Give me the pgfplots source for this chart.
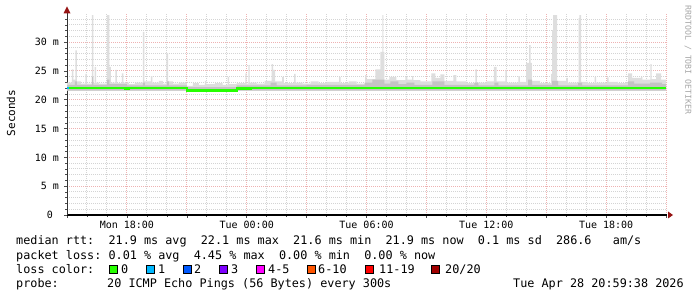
\documentclass[border=0pt]{standalone}
\usepackage{fontspec}
\usepackage{pgfplots}
\pgfplotsset{compat=1.18}
\usepgfplotslibrary{fillbetween}
\newfontfamily\mono{DejaVu Sans Mono}
\definecolor{lcA}{HTML}{26FF00}
\definecolor{lcB}{HTML}{00B8FF}
\definecolor{lcC}{HTML}{0059FF}
\definecolor{lcD}{HTML}{7E00FF}
\definecolor{lcE}{HTML}{FF00FF}
\definecolor{lcF}{HTML}{FF5500}
\definecolor{lcG}{HTML}{FF0000}
\definecolor{lcH}{HTML}{A10000}
\definecolor{smokeL}{RGB}{222,222,222}
\definecolor{smokeD}{RGB}{196,196,196}
\definecolor{mgrid}{RGB}{238,178,178}
\definecolor{grd}{RGB}{212,212,212}
\definecolor{arrowc}{RGB}{150,20,20}

\pgfplotstableread{
x y
0.00 23.0
0.25 25.3
0.32 23.5
0.42 28.6
0.50 23.2
0.70 22.8
0.92 24.5
1.00 22.8
1.25 34.7
1.32 22.9
1.38 25.7
1.46 23.0
1.60 22.8
2.00 34.7
2.12 25.7
2.20 23.0
2.42 25.2
2.50 22.9
2.75 24.6
2.82 23.0
3.10 22.7
3.40 23.0
3.80 31.8
3.88 23.2
4.20 24.1
4.28 23.0
4.60 23.3
4.80 22.8
4.98 28.1
5.06 23.2
5.30 22.8
5.60 23.0
6.00 22.4
6.30 22.9
6.60 22.6
6.90 23.3
6.98 22.7
7.40 22.9
7.80 22.6
8.05 24.0
8.12 22.7
8.50 22.9
8.93 24.6
9.00 22.8
9.08 26.0
9.15 23.0
9.50 22.8
9.90 23.3
10.25 26.2
10.32 25.2
10.42 23.2
10.78 24.0
10.86 22.9
11.38 24.5
11.45 23.0
11.80 22.8
12.20 23.2
12.60 22.9
13.00 23.1
13.63 24.0
13.70 22.9
14.10 23.2
14.50 22.8
14.93 24.3
15.00 23.6
15.45 25.3
15.70 28.3
15.80 34.7
15.85 28.3
15.90 23.5
16.15 24.0
16.50 23.4
16.95 24.0
17.05 23.5
17.28 24.1
17.35 23.4
17.70 23.2
18.25 24.6
18.45 23.8
18.70 24.4
18.90 23.3
19.35 24.3
19.50 23.2
20.00 22.9
20.45 25.3
20.53 23.0
21.00 23.2
21.38 25.7
21.52 23.2
21.95 25.2
22.03 23.0
22.60 24.1
22.68 23.1
23.00 26.4
23.15 29.5
23.22 26.4
23.28 23.3
23.70 22.9
24.25 24.5
24.30 32.1
24.35 34.7
24.55 23.3
25.00 23.8
25.08 23.0
25.62 34.2
25.66 34.7
25.75 23.1
26.10 22.9
26.42 24.0
26.50 23.0
27.05 23.9
27.12 23.1
27.60 22.9
28.10 24.6
28.30 23.8
28.75 24.0
28.82 23.5
29.22 26.2
29.28 23.6
29.50 24.6
29.75 23.5
30.00 23.5
}\smokelight

\pgfplotstableread{
x y
0.00 22.6
0.40 23.2
0.50 22.6
1.25 24.0
1.32 22.6
2.00 23.5
2.12 22.7
3.00 22.5
3.80 23.0
3.90 22.5
5.00 23.2
5.10 22.5
6.00 22.2
8.50 22.5
10.20 23.0
10.50 22.5
12.00 22.6
14.90 23.0
15.30 23.5
15.90 22.8
16.20 23.2
16.60 22.7
17.00 23.0
17.40 22.6
18.30 23.2
18.90 22.6
20.40 23.0
20.60 22.5
21.40 23.0
21.60 22.5
23.10 23.5
23.30 22.6
24.30 23.3
24.60 22.5
25.60 23.0
25.80 22.5
28.10 23.2
28.40 22.8
29.20 23.0
29.80 22.7
30.00 22.7
}\smokedark

\pgfplotstableread{
x y
0.00 22.0
2.90 21.95
3.10 22.0
6.00 21.6
6.65 21.5
6.75 21.6
8.50 21.95
9.20 22.0
30.00 22.0
}\median

\begin{document}
\begin{tikzpicture}
\begin{axis}[
  at={(67bp,82bp)}, anchor=south west,
  scale only axis, width=600bp, height=201.6bp,
  xmin=0, xmax=30.05, ymin=0, ymax=35,
  axis lines*=left,
  x axis line style={black, line width=1.5bp},
  y axis line style={black!80, line width=1bp},
  xtick={0,3,...,30},
  xticklabels={,Mon 18:00,,Tue 00:00,,Tue 06:00,,Tue 12:00,,Tue 18:00,},
  minor xtick={1,2,4,5,7,8,10,11,13,14,16,17,19,20,22,23,25,26,28,29},
  ytick={0,5,...,30},
  yticklabels={0~~,5~m,10~m,15~m,20~m,25~m,30~m},
  minor ytick={1,2,3,4,6,7,8,9,11,12,13,14,16,17,18,19,21,22,23,24,26,27,28,29,31,32,33,34},
  grid=both,
  major grid style={draw=mgrid, line width=1bp, dash pattern=on 1bp off 1bp},
  minor grid style={draw=grd, line width=1bp, dash pattern=on 1bp off 1bp},
  tick align=outside,
  major tick length=3bp, minor tick length=2bp,
  tick style={black!70, line width=0.6bp},
  ticklabel style={font=\mono\fontsize{10bp}{12bp}\selectfont},
  yticklabel style={xshift=-1.5bp},
  clip=false,
]
\addplot[draw=none, name path=base, forget plot] coordinates {(0,21.6) (30,21.6)};
\addplot[draw=none, const plot, name path=topL, forget plot] table[x=x,y=y] {\smokelight};
\addplot[draw=none, const plot, name path=topD, forget plot] table[x=x,y=y] {\smokedark};
\addplot[fill=smokeL, draw=none] fill between[of=topL and base];
\addplot[fill=smokeD, draw=none] fill between[of=topD and base];
\addplot[const plot, draw=lcA, line width=2.4bp] table[x=x,y=y] {\median};
\addplot[draw=lcB, line width=2.4bp] coordinates {(0,22.0) (0.12,22.0)};
\fill[arrowc] ([xshift=-3.5bp]rel axis cs:0,1) -- ([xshift=3.5bp]rel axis cs:0,1) -- ([yshift=7bp]rel axis cs:0,1) -- cycle;
\fill[arrowc] ([xshift=1bp,yshift=-3.5bp]rel axis cs:1,0) -- ([xshift=1bp,yshift=3.5bp]rel axis cs:1,0) -- ([xshift=6bp]rel axis cs:1,0) -- cycle;
\end{axis}

\node[rotate=90, font=\mono\fontsize{11bp}{13bp}\selectfont] at (11bp,184bp) {Seconds};
\node[rotate=-90, text=black!35, font=\mono\fontsize{8.2bp}{10bp}\selectfont] at (688bp,237bp) {RRDTOOL / TOBI OETIKER};

\begin{scope}[every node/.style={anchor=base west, inner sep=0pt, font=\mono\fontsize{11.8bp}{14bp}\selectfont}]
\node at (16bp,52bp) {median~rtt:~~21.9~ms~avg~~22.1~ms~max~~21.6~ms~min~~21.9~ms~now~~0.1~ms~sd~~286.6~~~am/s};
\node at (16bp,38bp) {packet~loss:~0.01~\%~avg~~4.45~\%~max~~0.00~\%~min~~0.00~\%~now};
\node at (16bp,24bp) {loss~color:};
\node at (121bp,24bp) {0};
\node at (158bp,24bp) {1};
\node at (194bp,24bp) {2};
\node at (231bp,24bp) {3};
\node at (268bp,24bp) {4-5};
\node at (318bp,24bp) {6-10};
\node at (379bp,24bp) {11-19};
\node at (445bp,24bp) {20/20};
\node at (16bp,10bp) {probe:};
\node at (107bp,10bp) {20~ICMP~Echo~Pings~(56~Bytes)~every~300s};
\node at (513bp,10bp) {Tue~Apr~28~20:59:38~2026};
\end{scope}
\foreach \xx/\cc in {109/lcA,146/lcB,183/lcC,219/lcD,256/lcE,307/lcF,365/lcG,431/lcH}{
  \filldraw[fill=\cc, draw=black, line width=0.9bp] (\xx bp,23.5bp) rectangle ++(8bp,8.5bp);
}
\pgfresetboundingbox
\path[use as bounding box] (0,0) rectangle (697bp,297bp);
\end{tikzpicture}
\end{document}
